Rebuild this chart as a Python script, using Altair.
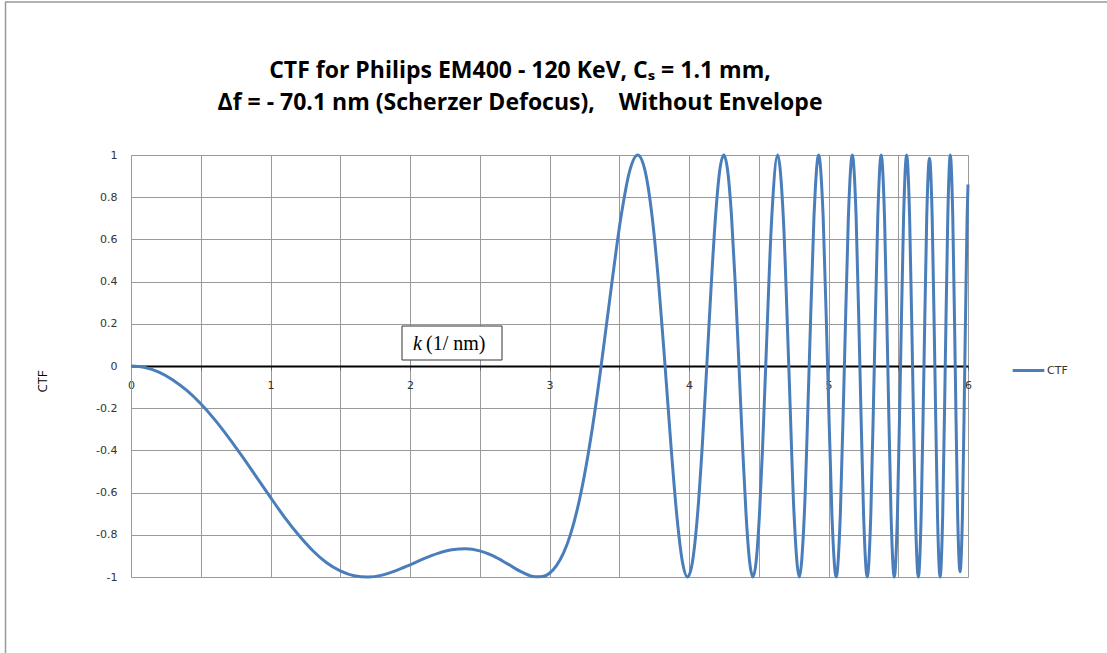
import altair as alt
import pandas as pd

# ---- data ----
k_vals = [
    0.0, 0.1, 0.2, 0.3, 0.4, 0.5, 0.6, 0.7, 0.8, 0.9, 1.0, 1.1, 1.2, 1.3, 1.4, 1.5,
    1.6, 1.7, 1.8, 1.9, 2.0, 2.1, 2.2, 2.3, 2.4, 2.5, 2.6, 2.7, 2.8, 2.9, 2.95, 3.0,
    3.05, 3.1, 3.15, 3.2, 3.25, 3.3, 3.35,
    3.3701, 3.4449, 3.5125, 3.5745, 3.6319, 3.6855, 3.7359, 3.7834,
    3.8285, 3.8714, 3.9124, 3.9517, 3.9895, 4.0258, 4.0608, 4.0947,
    4.1274, 4.1592, 4.1900, 4.2199, 4.2491, 4.2774, 4.3051, 4.3321,
    4.3584, 4.3842, 4.4093, 4.4340, 4.4581, 4.4817, 4.5049, 4.5276,
    4.5500, 4.5934, 4.6354, 4.6759, 4.7153, 4.7534, 4.7905, 4.8265,
    4.8616, 4.8958, 4.9291, 4.9617, 4.9935, 5.0246, 5.0550, 5.0847,
    5.1139, 5.1425, 5.1705, 5.1980, 5.2250, 5.2515, 5.2776, 5.3032,
    5.3284, 5.3532, 5.3775, 5.4015, 5.4252, 5.4484, 5.4714, 5.4940,
    5.5163, 5.5383, 5.5600, 5.5814, 5.6025, 5.6233, 5.6439, 5.6643,
    5.6844, 5.7042, 5.7238, 5.7432, 5.7624, 5.7813, 5.8000, 5.8186,
    5.8369, 5.8551, 5.8730, 5.8908, 5.9084, 5.9258, 5.9430, 5.9601,
    5.9770, 5.9938, 6.0,
]
ctf_vals = [
    0.0, -0.007, -0.029, -0.066, -0.116, -0.179, -0.254, -0.339, -0.431, -0.527, -0.623, -0.716, -0.800, -0.873, -0.931, -0.971,
    -0.994, -1.0, -0.991, -0.970, -0.942, -0.913, -0.888, -0.871, -0.866, -0.876, -0.901, -0.938, -0.976, -0.999, -0.998, -0.982,
    -0.946, -0.887, -0.799, -0.677, -0.519, -0.325, -0.098,
    0.0, 0.383, 0.707, 0.924, 1.0, 0.924, 0.707, 0.383,
    0.0, -0.383, -0.707, -0.924, -1.0, -0.924, -0.707, -0.383,
    0.0, 0.383, 0.707, 0.924, 1.0, 0.924, 0.707, 0.383,
    0.0, -0.383, -0.707, -0.924, -1.0, -0.924, -0.707, -0.383,
    0.0, 0.707, 1.0, 0.707, 0.0, -0.707, -1.0, -0.707,
    0.0, 0.707, 1.0, 0.707, 0.0, -0.707, -1.0, -0.707,
    0.0, 0.707, 1.0, 0.707, 0.0, -0.707, -1.0, -0.707,
    0.0, 0.707, 1.0, 0.707, 0.0, -0.707, -1.0, -0.707,
    0.0, 0.707, 1.0, 0.707, 0.0, -0.707, -1.0, -0.707,
    0.0, 0.707, 0.985, 0.707, 0.0, -0.707, -1.0, -0.707,
    0.0, 0.707, 1.0, 0.707, 0.0, -0.707, -0.975, -0.707,
    0.0, 0.707, 0.86,
]
series_name = "CTF"
x_ticks = [0, 0.5, 1, 1.5, 2, 2.5, 3, 3.5, 4, 4.5, 5, 5.5, 6]
y_ticks = [-1, -0.8, -0.6, -0.4, -0.2, 0, 0.2, 0.4, 0.6, 0.8, 1]
title_line1 = "CTF for Philips EM400 - 120 KeV, C\u209b = 1.1 mm,"
title_line2 = "\u0394f = - 70.1 nm (Scherzer Defocus),\u00a0\u00a0\u00a0 Without Envelope"
x_label_k = "k"
x_label_rest = "(1/ nm)"

df = pd.DataFrame({"k": k_vals, "CTF": ctf_vals, "series": [series_name] * len(k_vals)})

W, H = 837, 422
LINE_COLOR = "#4A7EBB"
GRID = "#9a9a9a"

line = alt.Chart(df).mark_line(
    interpolate="monotone", strokeWidth=3, clip=False
).encode(
    x=alt.X(
        "k:Q",
        scale=alt.Scale(domain=[0, 6], nice=False, zero=False),
        axis=alt.Axis(
            values=x_ticks, grid=True, gridColor=GRID, gridWidth=1,
            labelExpr="datum.value % 1 == 0 ? format(datum.value, 'd') : ''",
            offset=-H / 2, domainColor="black", domainWidth=2,
            tickColor="#666", tickSize=4, labelFlush=False,
            labelFont="DejaVu Sans", labelFontSize=11, labelColor="#333",
            labelPadding=9, title=None,
        ),
    ),
    y=alt.Y(
        "CTF:Q",
        scale=alt.Scale(domain=[-1, 1], nice=False, zero=False),
        axis=alt.Axis(
            values=y_ticks, grid=True, gridColor=GRID, gridWidth=1,
            labelExpr="datum.value < 0 ? '-' + format(-datum.value, '~g') : format(datum.value, '~g')",
            ticks=False, domainColor=GRID, labelPadding=14,
            labelFont="DejaVu Sans", labelFontSize=11, labelColor="#333",
            title="CTF", titleFont="Open Sans", titleFontSize=13, titleFontWeight="normal",
            titleColor="black", titleX=-82, titleY=226, titleAngle=-90,
        ),
    ),
    color=alt.Color(
        "series:N",
        scale=alt.Scale(domain=[series_name], range=[LINE_COLOR]),
        legend=alt.Legend(
            title=None, orient="none", legendX=880, legendY=198,
            symbolType="stroke", symbolSize=1000, symbolStrokeWidth=3,
            labelFont="DejaVu Sans", labelFontSize=11, labelColor="#333",
            padding=0, labelOffset=1,
        ),
    ),
)

one = pd.DataFrame({"a": [0]})

box = alt.Chart(one).mark_rect(fill="white", stroke="#333", strokeWidth=1).encode(
    x=alt.value(271), x2=alt.value(371), y=alt.value(171), y2=alt.value(205)
)
k_text = alt.Chart(one).mark_text(
    text=x_label_k, font="Liberation Serif", fontSize=20, fontStyle="italic",
    align="left", baseline="alphabetic", color="black"
).encode(x=alt.value(282), y=alt.value(195))
rest_text = alt.Chart(one).mark_text(
    text=x_label_rest, font="Liberation Serif", fontSize=20,
    align="left", baseline="alphabetic", color="black"
).encode(x=alt.value(295), y=alt.value(195))

t1 = alt.Chart(one).mark_text(
    text=title_line1, font="Open Sans", fontSize=23, fontWeight="bold",
    align="center", baseline="alphabetic", color="black"
).encode(x=alt.value(389), y=alt.value(-77))
t2 = alt.Chart(one).mark_text(
    text=title_line2, font="Open Sans", fontSize=23, fontWeight="bold",
    align="center", baseline="alphabetic", color="black"
).encode(x=alt.value(389), y=alt.value(-45))

top_border = alt.Chart(one).mark_rule(color="#999", strokeWidth=1.5).encode(
    x=alt.value(-126), x2=alt.value(976), y=alt.value(-153)
)
left_border = alt.Chart(one).mark_rule(color="#999", strokeWidth=1.5).encode(
    x=alt.value(-125.5), y=alt.value(-153), y2=alt.value(498)
)

chart = alt.layer(line, box, k_text, rest_text, t1, t2, top_border, left_border).properties(
    width=W, height=H,
    autosize=alt.AutoSizeParams(type="none"),
    padding={"left": 131, "top": 155, "right": 139, "bottom": 76},
).configure_view(stroke="#404040", strokeWidth=1).configure(background="white")

chart.save("out.html", embed_options={"renderer": "svg", "actions": False})
